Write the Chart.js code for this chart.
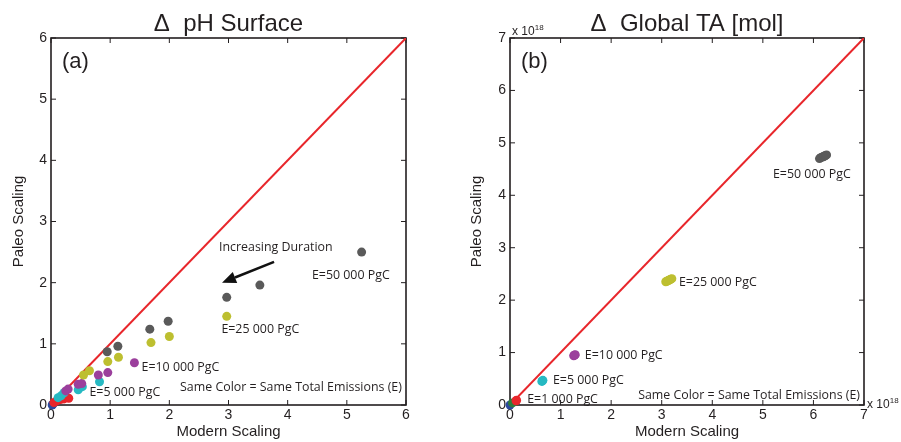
<!DOCTYPE html>
<html>
<head>
<meta charset="utf-8">
<script src="https://cdn.jsdelivr.net/npm/chart.js@4.4.1/dist/chart.umd.min.js"></script>
<style>
body { margin: 0; background: #fff; width: 901px; height: 442px; position: relative; overflow: hidden; }
.box { position: absolute; top: 0; height: 442px; }
</style>
</head>
<body>
<div class="box" style="left:0;width:450px"><canvas id="phChart" width="450" height="442"></canvas></div>
<div class="box" style="left:450px;width:451px"><canvas id="taChart" width="451" height="442"></canvas></div>
<script>
// (a) delta pH surface : modern scaling (x) vs paleo scaling (y)
var phE50000X = [0.95, 1.13, 1.67, 1.98, 2.97, 3.53, 5.25];
var phE50000Y = [0.87, 0.96, 1.24, 1.37, 1.76, 1.96, 2.50];
var phE25000X = [0.55, 0.65, 0.96, 1.14, 1.69, 2.00, 2.97];
var phE25000Y = [0.49, 0.56, 0.71, 0.78, 1.02, 1.12, 1.45];
var phE10000X = [0.25, 0.29, 0.46, 0.52, 0.80, 0.96, 1.41];
var phE10000Y = [0.23, 0.26, 0.34, 0.35, 0.49, 0.53, 0.69];
var phE5000X = [0.12, 0.17, 0.22, 0.46, 0.53, 0.82];
var phE5000Y = [0.12, 0.15, 0.20, 0.25, 0.30, 0.38];
var phE1000X = [0.05, 0.10, 0.16, 0.22, 0.30];
var phE1000Y = [0.04, 0.07, 0.09, 0.10, 0.11];
var phLowX = [0.02, 0.03];
var phLowY = [0.00, 0.01];

// (b) delta global TA [mol], units of 1e18
var taE50000X = [6.12, 6.15, 6.18, 6.20, 6.22, 6.24, 6.26];
var taE50000Y = [4.70, 4.72, 4.73, 4.74, 4.75, 4.76, 4.77];
var taE25000X = [3.08, 3.10, 3.12, 3.14, 3.16, 3.18, 3.20];
var taE25000Y = [2.35, 2.36, 2.37, 2.38, 2.39, 2.40, 2.41];
var taE10000X = [1.26, 1.27, 1.28, 1.29];
var taE10000Y = [0.94, 0.95, 0.95, 0.96];
var taE5000X = [0.63, 0.64, 0.65];
var taE5000Y = [0.45, 0.46, 0.47];
var taE1000X = [0.12, 0.13];
var taE1000Y = [0.08, 0.09];
var taMidX = [0.05];
var taMidY = [0.04];
var taLowX = [0.0];
var taLowY = [0.0];

var phTicks = [0, 1, 2, 3, 4, 5, 6];
var taTicks = [0, 1, 2, 3, 4, 5, 6, 7];

var phNotes = [
  { text: 'E=50 000 PgC', x: 4.41, y: 2.12 },
  { text: 'E=25 000 PgC', x: 2.88, y: 1.23 },
  { text: 'Increasing Duration', x: 2.84, y: 2.57 },
  { text: 'E=10 000 PgC', x: 1.53, y: 0.62 },
  { text: 'E=5 000 PgC', x: 0.65, y: 0.2 },
  { text: 'Same Color = Same Total Emissions (E)', x: 5.93, y: 0.28, right: true }
];
var taNotes = [
  { text: 'E=50 000 PgC', x: 5.2, y: 4.39 },
  { text: 'E=25 000 PgC', x: 3.34, y: 2.33 },
  { text: 'E=10 000 PgC', x: 1.48, y: 0.94 },
  { text: 'E=5 000 PgC', x: 0.85, y: 0.46 },
  { text: 'E=1 000 PgC', x: 0.34, y: 0.1 },
  { text: 'Same Color = Same Total Emissions (E)', x: 6.92, y: 0.19, right: true }
];

var GRAY = '#5a5a5a', YELLOW = '#bdbf30', MAGENTA = '#9b3f9c', CYAN = '#26b9c2',
    RED = '#e8262b', GREEN = '#2e7d3c', BLUE = '#2d4a9e', INK = '#231f20';
var AXFONT = '"Liberation Sans", Arial, sans-serif';
var NOTEFONT = '"Open Sans", "Noto Sans", sans-serif';

function pts(xs, ys) {
  return xs.map(function (x, i) { return { x: x, y: ys[i] }; });
}

function dots(xs, ys, color, r) {
  return {
    type: 'scatter', data: pts(xs, ys), backgroundColor: color, borderWidth: 0,
    pointRadius: r, pointHoverRadius: r, clip: false, order: 1
  };
}

function diag(max) {
  return {
    type: 'line', data: [{ x: 0, y: 0 }, { x: max, y: max }], borderColor: RED,
    borderWidth: 2, pointRadius: 0, fill: false, order: 5
  };
}

// black frame with inward ticks on all four sides, drawn under the points
var frameTicks = {
  id: 'frameTicks',
  beforeDatasetsDraw: function (chart) {
    var a = chart.chartArea, ctx = chart.ctx, xs = chart.scales.x, ys = chart.scales.y;
    var L = 5;
    ctx.save();
    ctx.strokeStyle = INK;
    ctx.lineWidth = 1.6;
    ctx.strokeRect(a.left, a.top, a.right - a.left, a.bottom - a.top);
    ctx.lineWidth = 1;
    ctx.beginPath();
    xs.ticks.forEach(function (t) {
      var px = xs.getPixelForValue(t.value);
      ctx.moveTo(px, a.bottom); ctx.lineTo(px, a.bottom - L);
      ctx.moveTo(px, a.top); ctx.lineTo(px, a.top + L);
    });
    ys.ticks.forEach(function (t) {
      var py = ys.getPixelForValue(t.value);
      ctx.moveTo(a.left, py); ctx.lineTo(a.left + L, py);
      ctx.moveTo(a.right, py); ctx.lineTo(a.right - L, py);
    });
    ctx.stroke();
    ctx.restore();
  },
  afterDraw: function (chart) {
    var o = chart.options.plugins.frameTicks, ctx = chart.ctx, a = chart.chartArea;
    var xs = chart.scales.x, ys = chart.scales.y;
    ctx.save();
    // title
    ctx.fillStyle = INK;
    ctx.font = '24px ' + AXFONT;
    ctx.textAlign = 'center';
    ctx.textBaseline = 'alphabetic';
    ctx.fillText(o.title, (a.left + a.right) / 2, 31);
    // panel letter
    ctx.font = '22px ' + AXFONT;
    ctx.textAlign = 'left';
    ctx.textBaseline = 'middle';
    ctx.fillText(o.letter, a.left + 11, a.top + 24);
    // notes
    ctx.font = '12.4px ' + NOTEFONT;
    o.notes.forEach(function (n) {
      ctx.textAlign = n.right ? 'right' : 'left';
      ctx.fillText(n.text, xs.getPixelForValue(n.x), ys.getPixelForValue(n.y));
    });
    // arrow
    if (o.arrow) {
      var x1 = xs.getPixelForValue(o.arrow[0]), y1 = ys.getPixelForValue(o.arrow[1]);
      var x2 = xs.getPixelForValue(o.arrow[2]), y2 = ys.getPixelForValue(o.arrow[3]);
      var ang = Math.atan2(y2 - y1, x2 - x1), hl = 14, hw = 6;
      var bx = x2 - hl * Math.cos(ang), by = y2 - hl * Math.sin(ang);
      ctx.strokeStyle = '#111';
      ctx.lineWidth = 2.5;
      ctx.beginPath(); ctx.moveTo(x1, y1); ctx.lineTo(bx, by); ctx.stroke();
      ctx.fillStyle = '#111';
      ctx.beginPath();
      ctx.moveTo(x2, y2);
      ctx.lineTo(bx + hw * Math.sin(ang), by - hw * Math.cos(ang));
      ctx.lineTo(bx - hw * Math.sin(ang), by + hw * Math.cos(ang));
      ctx.closePath(); ctx.fill();
    }
    // exponent labels
    if (o.exponent) {
      ctx.fillStyle = INK;
      ctx.textAlign = 'left';
      ctx.textBaseline = 'alphabetic';
      ctx.font = '12px ' + AXFONT;
      ctx.fillText('x 10', a.left + 2, a.top - 3);
      var w = ctx.measureText('x 10').width;
      ctx.font = '8px ' + AXFONT;
      ctx.fillText('18', a.left + 2 + w, a.top - 8);
      ctx.font = '12px ' + AXFONT;
      ctx.fillText('x 10', a.right + 3, a.bottom + 3);
      ctx.font = '8px ' + AXFONT;
      ctx.fillText('18', a.right + 3 + w, a.bottom - 2);
    }
    ctx.restore();
  }
};

function makeChart(id, datasets, ticks, yWidth, titlePad, rightPad, panel) {
  var max = ticks[ticks.length - 1];
  return new Chart(document.getElementById(id), {
    data: { datasets: datasets },
    options: {
      responsive: false,
      animation: false,
      layout: { padding: { top: 38, right: rightPad, left: 0, bottom: 0 } },
      plugins: { legend: { display: false }, tooltip: { enabled: false }, frameTicks: panel },
      scales: {
        x: {
          type: 'linear', min: 0, max: max,
          afterBuildTicks: function (s) { s.ticks = ticks.map(function (v) { return { value: v }; }); },
          ticks: { padding: 2, maxRotation: 0, color: INK, font: { family: AXFONT, size: 14 } },
          grid: { display: false, drawTicks: false },
          border: { display: false },
          title: { display: true, text: 'Modern Scaling', color: INK, font: { family: AXFONT, size: 15 }, padding: { top: 0, bottom: 1 } },
          afterFit: function (s) { s.height = 37; }
        },
        y: {
          type: 'linear', min: 0, max: max,
          afterBuildTicks: function (s) { s.ticks = ticks.map(function (v) { return { value: v }; }); },
          ticks: { padding: 4, color: INK, font: { family: AXFONT, size: 14 } },
          grid: { display: false, drawTicks: false },
          border: { display: false },
          title: { display: true, text: 'Paleo Scaling', color: INK, font: { family: AXFONT, size: 15 }, padding: { top: titlePad, bottom: 0 } },
          afterFit: function (s) { s.width = yWidth; }
        }
      }
    },
    plugins: [frameTicks]
  });
}

makeChart('phChart', [
  dots(phE50000X, phE50000Y, GRAY, 4.5),
  dots(phE25000X, phE25000Y, YELLOW, 4.5),
  dots(phE10000X, phE10000Y, MAGENTA, 4.5),
  dots(phE5000X, phE5000Y, CYAN, 4.5),
  dots(phE1000X, phE1000Y, RED, 4.5),
  dots(phLowX, phLowY, BLUE, 4.5),
  diag(6)
], phTicks, 51, 10, 44, {
  title: '\u0394  pH Surface', letter: '(a)', notes: phNotes,
  arrow: [3.77, 2.34, 2.89, 2.0], exponent: false
});

makeChart('taChart', [
  dots(taE50000X, taE50000Y, GRAY, 4.5),
  dots(taE25000X, taE25000Y, YELLOW, 4.5),
  dots(taE10000X, taE10000Y, MAGENTA, 4.5),
  dots(taE5000X, taE5000Y, CYAN, 4.5),
  dots(taE1000X, taE1000Y, RED, 4.5),
  dots(taMidX, taMidY, GREEN, 4.5),
  dots(taLowX, taLowY, BLUE, 4.5),
  diag(7)
], taTicks, 60, 18, 37, {
  title: '\u0394  Global TA [mol]', letter: '(b)', notes: taNotes,
  arrow: null, exponent: true
});
</script>
</body>
</html>
